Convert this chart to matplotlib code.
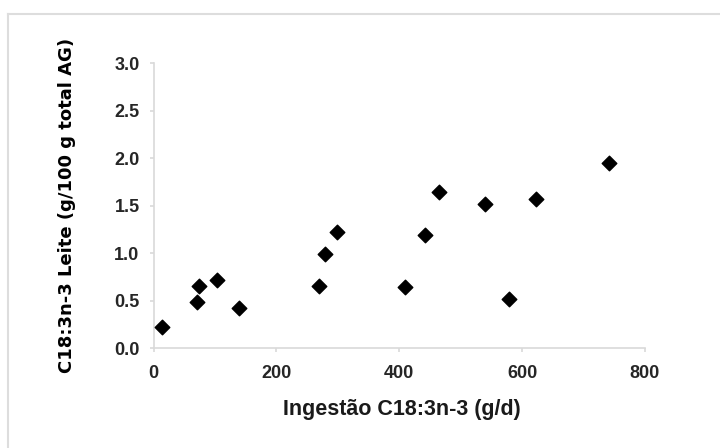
import matplotlib.pyplot as plt
from matplotlib.lines import Line2D

plt.rcParams['font.family'] = ['Liberation Sans', 'DejaVu Sans']

# ingestao C18:3n-3 (g/d) vs C18:3n-3 no leite (g/100 g total AG)
ingestao = [14, 71, 74, 104, 139, 269, 279, 299, 410, 442, 464, 540, 579, 622, 742]
leite = [0.22, 0.49, 0.65, 0.72, 0.42, 0.655, 0.99, 1.22, 0.64, 1.19, 1.64, 1.52, 0.52, 1.57, 1.95]

x_ticks = [0, 200, 400, 600, 800]
y_ticks = [0.0, 0.5, 1.0, 1.5, 2.0, 2.5, 3.0]

fig = plt.figure(figsize=(7.2, 4.48), dpi=100)
ax = fig.add_axes([0.2132, 0.2232, 0.6826, 0.6355])

ax.scatter(ingestao, leite, marker='D', s=55, color='black', zorder=3)

ax.set_xlim(0, 800)
ax.set_ylim(0, 3.0)
ax.set_xticks(x_ticks)
ax.set_yticks(y_ticks)
ax.set_yticklabels(['%.1f' % v for v in y_ticks])

for s in ['top', 'right']:
    ax.spines[s].set_visible(False)
for s in ['left', 'bottom']:
    ax.spines[s].set_color('#d9d9d9')
    ax.spines[s].set_linewidth(1.2)
ax.tick_params(axis='both', color='#d9d9d9', width=1.2, length=3,
               labelsize=13, labelcolor='#262626')
ax.tick_params(axis='y', pad=7)
ax.tick_params(axis='x', pad=9)
for lab in ax.get_xticklabels() + ax.get_yticklabels():
    lab.set_fontweight('bold')

ax.set_xlabel('Ingestão C18:3n-3 (g/d)', fontsize=15.5, fontweight='bold', color='#1a1a1a')
ax.xaxis.set_label_coords(0.505, -0.18)
ax.set_ylabel('C18:3n-3 Leite (g/100 g total AG)', fontsize=13, fontweight='bold',
              family=['DejaVu Sans'], color='black')
ax.yaxis.set_label_coords(-0.157, 0.5)

# light grey frame (only left and top edges fall inside the image)
fig.add_artist(Line2D([8/720, 8/720], [0, 1 - 14/448], transform=fig.transFigure,
                      color='#dddddd', lw=1.5))
fig.add_artist(Line2D([8/720, 1], [1 - 14/448, 1 - 14/448], transform=fig.transFigure,
                      color='#dddddd', lw=1.5))

fig.savefig('out.png', dpi=100)
